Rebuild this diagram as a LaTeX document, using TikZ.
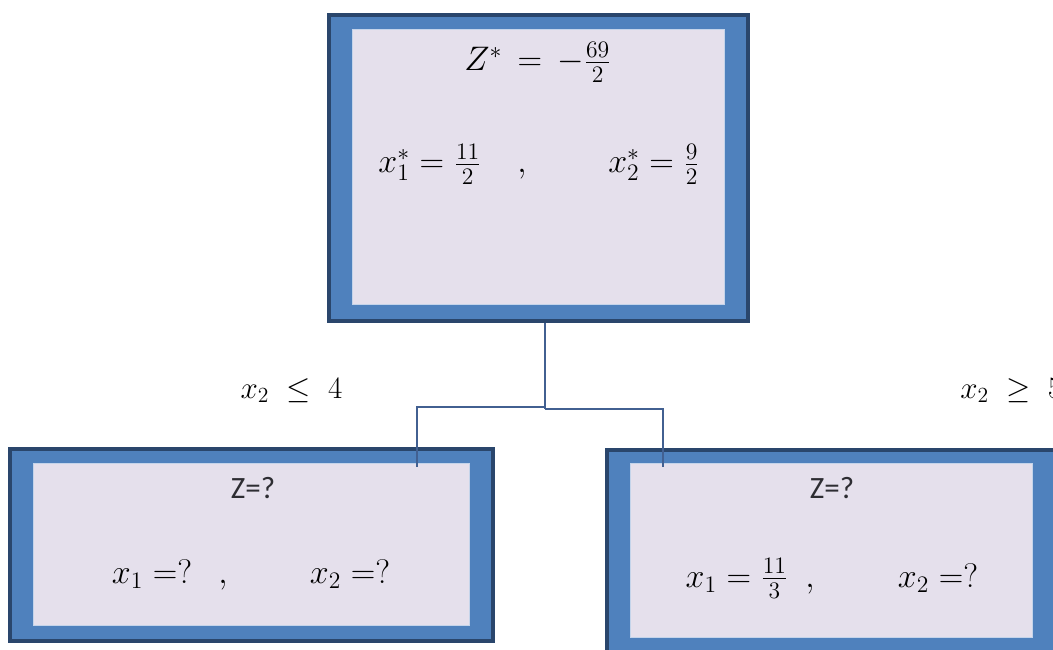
\documentclass[tikz,border=0pt]{standalone}
\usepackage{fontspec}
\newfontfamily\calib{Carlito}
\definecolor{boxblue}{RGB}{79,129,189}
\definecolor{boxdark}{RGB}{42,70,108}
\definecolor{boxlav}{RGB}{229,224,236}
\definecolor{boxlight}{RGB}{196,212,234}
\definecolor{connblue}{RGB}{66,96,145}
\definecolor{txtgray}{RGB}{45,45,50}
\tikzset{
  outerbox/.style={draw=boxdark, line width=4pt, fill=boxblue, inner sep=0pt, rectangle},
  innerbox/.style={draw=boxlight, line width=1.5pt, fill=boxlav, inner sep=0pt, rectangle},
  mtxt/.style={inner sep=0pt, anchor=base, font=\LARGE, scale=1.97},
  ctxt/.style={inner sep=0pt, anchor=base, text=txtgray, font=\calib\fontsize{31}{36}\selectfont},
  ltxt/.style={inner sep=0pt, anchor=base, font=\LARGE, scale=1.8},
  conn/.style={draw=connblue, line width=1.5pt},
}
\begin{document}
\begin{tikzpicture}[x=1pt,y=-1pt]
\useasboundingbox (0,0) rectangle (1053,649);
\clip (0,0) rectangle (1053,649);
% top box
\node[outerbox, minimum width=419pt, minimum height=306pt] (top) at (538.5,168) {};
\node[innerbox, minimum width=372pt, minimum height=275pt] (topin) at (538.5,167) {};
% left box
\node[outerbox, minimum width=483pt, minimum height=192pt] (left) at (251.5,545) {};
\node[innerbox, minimum width=436pt, minimum height=162pt] (leftin) at (251.5,544.5) {};
% right box
\node[outerbox, minimum width=449pt, minimum height=203pt] (right) at (831.5,551.5) {};
\node[innerbox, minimum width=402pt, minimum height=174pt] (rightin) at (831.5,550.5) {};
% connectors
\coordinate (jl) at (545,407);
\coordinate (jr) at (545,409);
\coordinate (el) at (417,467);
\coordinate (er) at (663,467);
\draw[conn, line width=1.8pt] (top.south -| jl) -- (jr);
\draw[conn] (jl) -| (el);
\draw[conn] (jr) -| (er);
% top texts
\node[mtxt] (tz) at (538,70.5) {$Z^{*}\,=\,{-}\frac{69}{2}$};
\node[mtxt] (tx1) at (430,172.5) {$x_1^{*}=\frac{11}{2}$};
\node[mtxt] (tc) at (522,172.5) {$,$};
\node[mtxt] (tx2) at (654,172.5) {$x_2^{*}=\frac{9}{2}$};
% left texts
\node[ctxt] (lz) at (253,498) {Z=?};
\node[mtxt] (lx1) at (152,583) {$x_1\;{=}?$};
\node[mtxt] (lc) at (223,583) {$,$};
\node[mtxt] (lx2) at (350,583) {$x_2\;{=}?$};
% right texts
\node[ctxt] (rz) at (832,498) {Z=?};
\node[mtxt] (rx1) at (737,587) {$x_1=\frac{11}{3}$};
\node[mtxt] (rc) at (810,587) {$,$};
\node[mtxt] (rx2) at (938,587) {$x_2\;{=}?$};
% branch labels
\node[ltxt] (bl) at (291.5,398) {$x_2\;\le\;4$};
\node[ltxt, anchor=base west] (br) at (960,398) {$x_2\;\ge\;5$};
\end{tikzpicture}
\end{document}
